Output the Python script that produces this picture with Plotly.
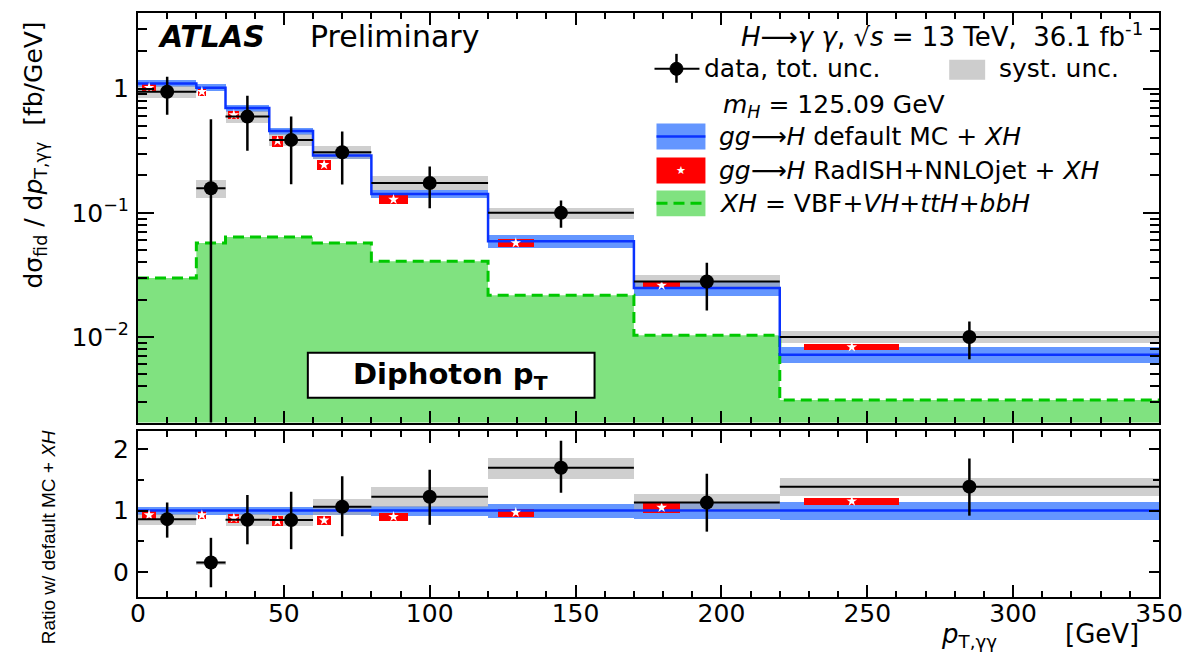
import numpy as np
import plotly.graph_objects as go

# ---------------- data ----------------
bin_edges = [0, 20, 30, 45, 60, 80, 120, 170, 220, 350]
data_x = [10, 25, 37.5, 52.5, 70, 100, 145, 195, 285]
data_y = [0.946, 0.158, 0.596, 0.387, 0.308, 0.174, 0.100, 0.028, 0.0100]
data_err_up = [0.30, 0.41, 0.28, 0.21, 0.144, 0.062, 0.026, 0.0116, 0.0033]
data_err_dn = [0.33, 0.41, 0.28, 0.217, 0.139, 0.065, 0.024, 0.0117, 0.0034]
data_syst_rel = [0.11, 0.17, 0.11, 0.11, 0.12, 0.13, 0.10, 0.13, 0.11]

mc_default = [1.10, 1.02, 0.70, 0.457, 0.29, 0.142, 0.059, 0.0248, 0.0072]
mc_default_rel = [0.065, 0.065, 0.065, 0.065, 0.065, 0.08, 0.12, 0.135, 0.15]

radish = [1.02, 0.946, 0.615, 0.38, 0.244, 0.128, 0.0572, 0.026, 0.0083]
radish_rel = [0.07, 0.07, 0.08, 0.10, 0.09, 0.08, 0.07, 0.07, 0.05]

xh = [0.0299, 0.0572, 0.0640, 0.0640, 0.0572, 0.0408, 0.0217, 0.0103, 0.0031]

x_ticks = [0, 50, 100, 150, 200, 250, 300, 350]

# ---------------- derived arrays ----------------
edges = np.array(bin_edges, float)
lo_e, hi_e = edges[:-1], edges[1:]
width = hi_e - lo_e
center = 0.5 * (lo_e + hi_e)
dy = np.array(data_y)
dup = np.array(data_err_up)
ddn = np.array(data_err_dn)
syst = np.array(data_syst_rel)
mc = np.array(mc_default)
mcr = np.array(mc_default_rel)
rad = np.array(radish)
radr = np.array(radish_rel)
xhv = np.array(xh)

red_x = lo_e + 0.19 * width
red_w = 0.25 * width

step_x = list(edges)

BLUE_LINE = "rgb(10,50,255)"
BLUE_BAND = "rgb(100,150,255)"
RED = "rgb(255,0,0)"
GREEN_FILL = "rgb(128,226,128)"
GREEN_LINE = "rgb(0,200,0)"
GRAY = "rgba(175,175,175,0.6)"
FONT = "DejaVu Sans"
DASH = "11px,6px"

fig = go.Figure()

def add_panel(xa, ya, ratio):
    ref = mc
    if not ratio:
        fig.add_trace(go.Scatter(x=step_x, y=list(xhv) + [xhv[-1]], mode="lines",
                                 line=dict(shape="hv", color=GREEN_LINE, width=3, dash=DASH),
                                 fill="tozeroy", fillcolor=GREEN_FILL,
                                 xaxis=xa, yaxis=ya, showlegend=False, hoverinfo="skip"))
        mid = mc
    else:
        mid = mc / mc
    # default MC band + line
    b_lo = mid * (1 - mcr)
    b_hi = mid * (1 + mcr)
    fig.add_trace(go.Bar(x=center, y=b_hi - b_lo, base=b_lo, width=width,
                         marker=dict(color=BLUE_BAND, line=dict(width=0)),
                         xaxis=xa, yaxis=ya, showlegend=False, hoverinfo="skip"))
    fig.add_trace(go.Scatter(x=step_x, y=list(mid) + [mid[-1]], mode="lines",
                             line=dict(shape="hv", color=BLUE_LINE, width=2.5),
                             xaxis=xa, yaxis=ya, showlegend=False, hoverinfo="skip"))
    # data systematic boxes
    dv = dy / ref if ratio else dy
    s_lo = dv * (1 - syst)
    s_hi = dv * (1 + syst)
    fig.add_trace(go.Bar(x=center, y=s_hi - s_lo, base=s_lo, width=width,
                         marker=dict(color=GRAY, line=dict(width=0)),
                         xaxis=xa, yaxis=ya, showlegend=False, hoverinfo="skip"))
    # RadISH+NNLOjet boxes with stars
    rv = rad / ref if ratio else rad
    r_lo = rv * (1 - radr)
    r_hi = rv * (1 + radr)
    fig.add_trace(go.Bar(x=red_x, y=r_hi - r_lo, base=r_lo, width=red_w,
                         marker=dict(color=RED, line=dict(width=0)),
                         xaxis=xa, yaxis=ya, showlegend=False, hoverinfo="skip"))
    fig.add_trace(go.Scatter(x=red_x, y=rv, mode="markers",
                             marker=dict(symbol="star", size=8, color="white", line=dict(width=0)),
                             xaxis=xa, yaxis=ya, showlegend=False, hoverinfo="skip"))
    # data points
    eu = dup / ref if ratio else dup
    ed = ddn / ref if ratio else ddn
    fig.add_trace(go.Scatter(x=data_x, y=dv, mode="markers",
                             marker=dict(symbol="circle", size=14, color="black"),
                             error_y=dict(type="data", symmetric=False, array=eu, arrayminus=ed,
                                          width=0, thickness=2.5, color="black"),
                             error_x=dict(type="data", array=width / 2, width=0,
                                          thickness=2, color="black"),
                             xaxis=xa, yaxis=ya, showlegend=False, hoverinfo="skip"))

add_panel("x", "y", False)
add_panel("x2", "y2", True)

# ---------------- layout geometry (pixels) ----------------
W_FIG, H_FIG = 1194, 653
L, R, T, B = 138, 1160, 11, 597
PW, PH = R - L, B - T
top_bottom_px = 422
ratio_top_px = 430

def pxx(x):
    return (x - L) / PW

def pxy(y):
    return (B - y) / PH

axis_common = dict(showline=True, linecolor="black", linewidth=2, mirror="allticks",
                   ticks="inside", showgrid=False, zeroline=False,
                   tickfont=dict(family=FONT, size=25, color="black"), tickcolor="black")

fig.update_layout(
    width=W_FIG, height=H_FIG,
    margin=dict(l=L, r=W_FIG - R, t=T, b=H_FIG - B),
    paper_bgcolor="white", plot_bgcolor="white",
    barmode="overlay", bargap=0, showlegend=False,
    xaxis=dict(domain=[0, 1], range=[0, 350], anchor="y", showticklabels=False,
               tickvals=x_ticks, ticklen=12, tickwidth=1.5,
               minor=dict(dtick=10, tick0=0, ticks="inside", ticklen=6, tickcolor="black"),
               **axis_common),
    yaxis=dict(domain=[pxy(top_bottom_px), 1], type="log", range=[-2.69, 0.61], anchor="x",
               tickvals=[0.01, 0.1, 1], ticktext=["10<sup>−2</sup>", "10<sup>−1</sup>", "1"],
               ticklen=16, tickwidth=1.5, ticklabelstandoff=2,
               minor=dict(dtick="D1", ticks="inside", ticklen=9, tickcolor="black"),
               **axis_common),
    xaxis2=dict(domain=[0, 1], range=[0, 350], anchor="y2", matches="x",
                tickvals=x_ticks, ticklen=12, tickwidth=1.5, ticklabelstandoff=-7,
                minor=dict(dtick=10, tick0=0, ticks="inside", ticklen=6, tickcolor="black"),
                **axis_common),
    yaxis2=dict(domain=[0, pxy(ratio_top_px)], range=[-0.405, 2.3], anchor="x2",
                tickvals=[0, 1, 2], ticklen=10, tickwidth=1.5, ticklabelstandoff=2,
                minor=dict(dtick=0.5, tick0=0, ticks="inside", ticklen=6, tickcolor="black"),
                **axis_common),
)

ann = []
shapes = []

def text(x, y, s, size=24, xanchor="left", family=FONT, angle=0, color="black", **kw):
    ann.append(dict(x=pxx(x), y=pxy(y), xref="paper", yref="paper", text=s, showarrow=False,
                    xanchor=xanchor, yanchor="middle", textangle=angle,
                    font=dict(family=family, size=size, color=color), **kw))

def rect(x0, x1, y0, y1, fill, line=None):
    shapes.append(dict(type="rect", xref="paper", yref="paper", x0=pxx(x0), x1=pxx(x1),
                       y0=pxy(y0), y1=pxy(y1), fillcolor=fill,
                       line=line if line else dict(width=0)))

def seg(x0, x1, y0, y1, color, w, dash=None):
    ln = dict(color=color, width=w)
    if dash:
        ln["dash"] = dash
    shapes.append(dict(type="line", xref="paper", yref="paper", x0=pxx(x0), x1=pxx(x1),
                       y0=pxy(y0), y1=pxy(y1), line=ln))

# ATLAS label
text(156, 35, "<b><i>ATLAS</i></b>", size=30)
text(308, 35, "Preliminary", size=30)

# Legend
text(1146, 33, "<i>H</i>⟶<i>γ γ</i>, √<i>s</i> = 13 TeV,  36.1 fb<sup>-1</sup>", size=26, xanchor="right")
seg(655, 700, 67, 67, "black", 2)
seg(677, 677, 52, 81, "black", 2.5)
shapes.append(dict(type="circle", xref="paper", yref="paper", x0=pxx(670.5), x1=pxx(683.5),
                   y0=pxy(60.5), y1=pxy(73.5), fillcolor="black", line=dict(color="black", width=1)))
text(703, 67, "data, tot. unc.", size=25)
rect(950, 986, 58, 78, "rgb(205,205,205)")
text(998, 67, "syst. unc.", size=25)
text(722, 104, "<i>m<sub>H</sub></i> = 125.09 GeV", size=25)
rect(657, 706, 122, 148, BLUE_BAND)
seg(657, 706, 135, 135, BLUE_LINE, 2.5)
text(718, 135, "<i>gg</i>⟶<i>H</i> default MC + <i>XH</i>", size=25)
rect(657, 706, 156, 182, RED)
text(681.5, 169, "★", size=11, xanchor="center", color="white")
text(718, 169, "<i>gg</i>⟶<i>H</i> RadISH+NNLOjet + <i>XH</i>", size=25)
rect(657, 706, 189, 215, GREEN_FILL)
seg(657, 706, 202, 202, GREEN_LINE, 3, DASH)
text(718, 202, "<i>XH</i> = VBF+<i>VH</i>+<i>ttH</i>+<i>bbH</i>", size=25)

# Diphoton pT box
rect(308, 595, 352, 397, "white", dict(color="black", width=2))
text(451, 375, "<b>Diphoton p<sub>T</sub></b>", size=29, xanchor="center")

# axis titles
text(34, 154, "dσ<sub>fid</sub> / d<i>p</i><sub>T,γγ</sub>  [fb/GeV]", size=25, xanchor="center", angle=-90)
text(48, 537, "Ratio w/ default MC + <i>XH</i>", size=19, xanchor="center", angle=-90,
     family="Liberation Sans")
text(940, 636, "<i>p</i><sub>T,γγ</sub>", size=26, xanchor="left")
text(1142, 634, "[GeV]", size=26, xanchor="right")

fig.update_layout(annotations=ann, shapes=shapes)

fig.write_html("out.html")
